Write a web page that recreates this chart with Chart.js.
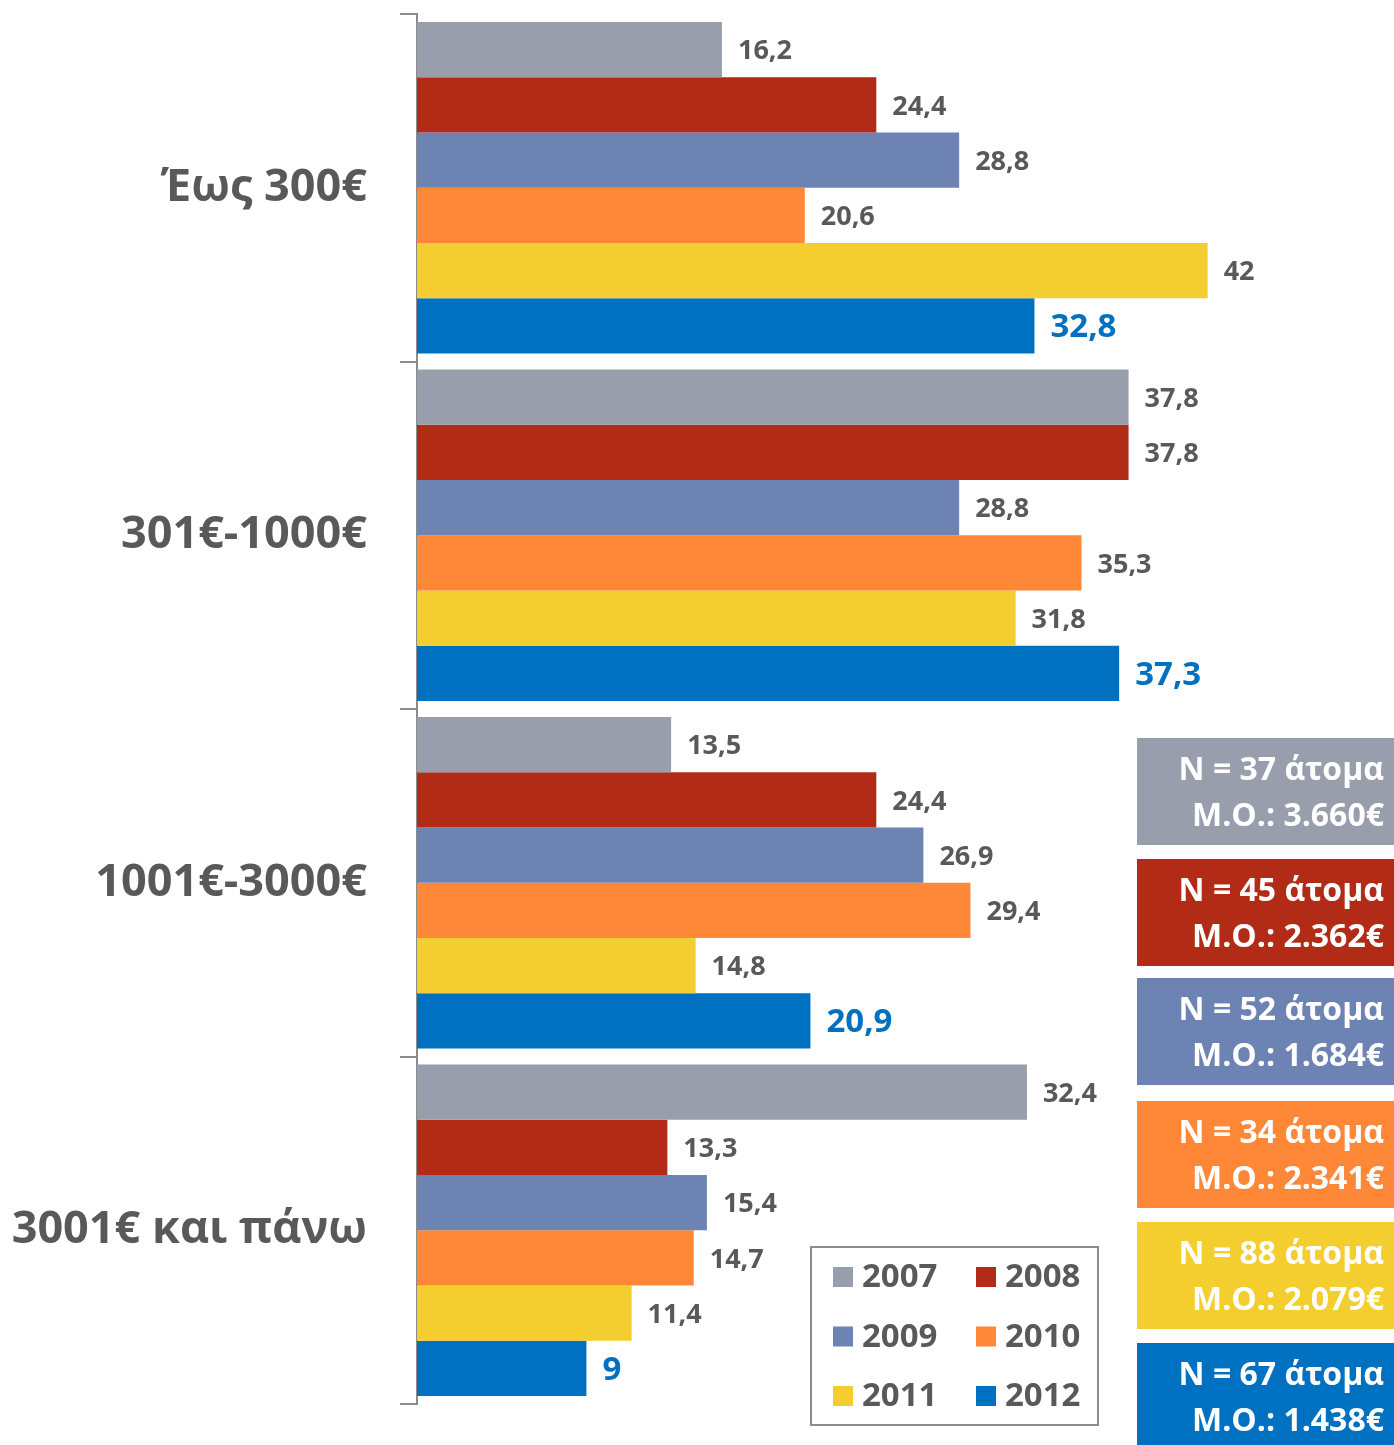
<!DOCTYPE html>
<html>
<head>
<meta charset="utf-8">
<script src="https://cdn.jsdelivr.net/npm/chart.js@4.4.1/dist/chart.umd.min.js"></script>
<style>
  html, body { margin: 0; padding: 0; background: #fff; }
  #wrap { position: relative; width: 1394px; height: 1445px; }
</style>
</head>
<body>
<div id="wrap"><canvas id="chart"></canvas></div>
<script>
// categories (income bands) and years
const categories = ["Έως 300€", "301€-1000€", "1001€-3000€", "3001€ και πάνω"];
const years = ["2007", "2008", "2009", "2010", "2011", "2012"];

// percentages per year, one value per category
const v2007 = [16.2, 37.8, 13.5, 32.4];
const v2008 = [24.4, 37.8, 24.4, 13.3];
const v2009 = [28.8, 28.8, 26.9, 15.4];
const v2010 = [20.6, 35.3, 29.4, 14.7];
const v2011 = [42, 31.8, 14.8, 11.4];
const v2012 = [32.8, 37.3, 20.9, 9];

// sample size and mean income per year
const sampleN = [37, 45, 52, 34, 88, 67];
const meanIncome = ["3.660", "2.362", "1.684", "2.341", "2.079", "1.438"];

const colors = ["#989eab", "#b22b17", "#6d83b3", "#fe8838", "#f4cd2e", "#0070c0"];
const FONT = "'Open Sans', 'Noto Sans', 'DejaVu Sans', sans-serif";
const GREY_TEXT = "#595959";

const series = [v2007, v2008, v2009, v2010, v2011, v2012];
const datasets = series.map((vals, i) => ({
  label: years[i],
  data: vals,
  backgroundColor: colors[i],
  borderWidth: 0,
  barPercentage: 1.0,
  categoryPercentage: 0.954
}));

// value labels to the right of each bar
const valueLabels = {
  id: "valueLabels",
  afterDatasetsDraw(chart) {
    const ctx = chart.ctx;
    ctx.save();
    ctx.textBaseline = "middle";
    ctx.textAlign = "left";
    chart.data.datasets.forEach((ds, di) => {
      const meta = chart.getDatasetMeta(di);
      const last = di === chart.data.datasets.length - 1;
      ctx.font = (last ? "bold 33px " : "bold 27px ") + FONT;
      ctx.fillStyle = last ? "#0070c0" : GREY_TEXT;
      meta.data.forEach((bar, j) => {
        const txt = String(ds.data[j]).replace(".", ",");
        ctx.fillText(txt, bar.x + 16, bar.y + 2);
      });
    });
    ctx.restore();
  }
};

// legend box (2 columns x 3 rows) and the N / M.O. boxes on the right
const extras = {
  id: "extras",
  afterDraw(chart) {
    const ctx = chart.ctx;
    ctx.save();

    // legend
    ctx.strokeStyle = "#8c8c8c";
    ctx.lineWidth = 2;
    ctx.fillStyle = "#fff";
    ctx.fillRect(811, 1247, 287, 178);
    ctx.strokeRect(811, 1247, 287, 178);
    ctx.font = "bold 33px " + FONT;
    ctx.textBaseline = "middle";
    ctx.textAlign = "left";
    chart.data.datasets.forEach((ds, i) => {
      const col = i % 2, row = Math.floor(i / 2);
      const x = 833 + col * 143;
      const y = 1277 + row * 59.5;
      ctx.fillStyle = ds.backgroundColor;
      ctx.fillRect(x, y - 10, 20, 20);
      ctx.fillStyle = GREY_TEXT;
      ctx.fillText(ds.label, x + 29, y + 1);
    });

    // info boxes
    const tops = [738, 859, 978, 1101, 1222, 1343];
    ctx.textAlign = "right";
    ctx.font = "bold 32px " + FONT;
    sampleN.forEach((n, i) => {
      const top = tops[i];
      ctx.fillStyle = colors[i];
      ctx.fillRect(1137, top, 257, 107);
      ctx.fillStyle = "#fff";
      ctx.fillText("N = " + n + " άτομα", 1384, top + 33);
      ctx.fillText("M.O.: " + meanIncome[i] + "€", 1384, top + 79);
    });
    ctx.restore();
  }
};

new Chart(document.getElementById("chart"), {
  type: "bar",
  data: { labels: categories, datasets },
  options: {
    indexAxis: "y",
    responsive: true,
    maintainAspectRatio: false,
    animation: false,
    layout: { padding: { top: 14, bottom: 41, right: 0, left: 0 } },
    plugins: {
      legend: { display: false },
      tooltip: { enabled: false }
    },
    scales: {
      x: {
        display: false,
        min: 0,
        max: 51.9
      },
      y: {
        afterFit(scale) {
          scale.width = 417;
          scale.paddingTop = 0;
          scale.paddingBottom = 0;
        },
        border: { display: true, color: "#8c8c8c", width: 2 },
        grid: {
          offset: true,
          drawOnChartArea: false,
          drawTicks: true,
          tickLength: 17,
          color: "#8c8c8c",
          lineWidth: 2
        },
        ticks: {
          padding: 33,
          color: GREY_TEXT,
          font: { family: FONT, size: 45, weight: "bold" }
        }
      }
    }
  },
  plugins: [valueLabels, extras]
});
</script>
</body>
</html>
